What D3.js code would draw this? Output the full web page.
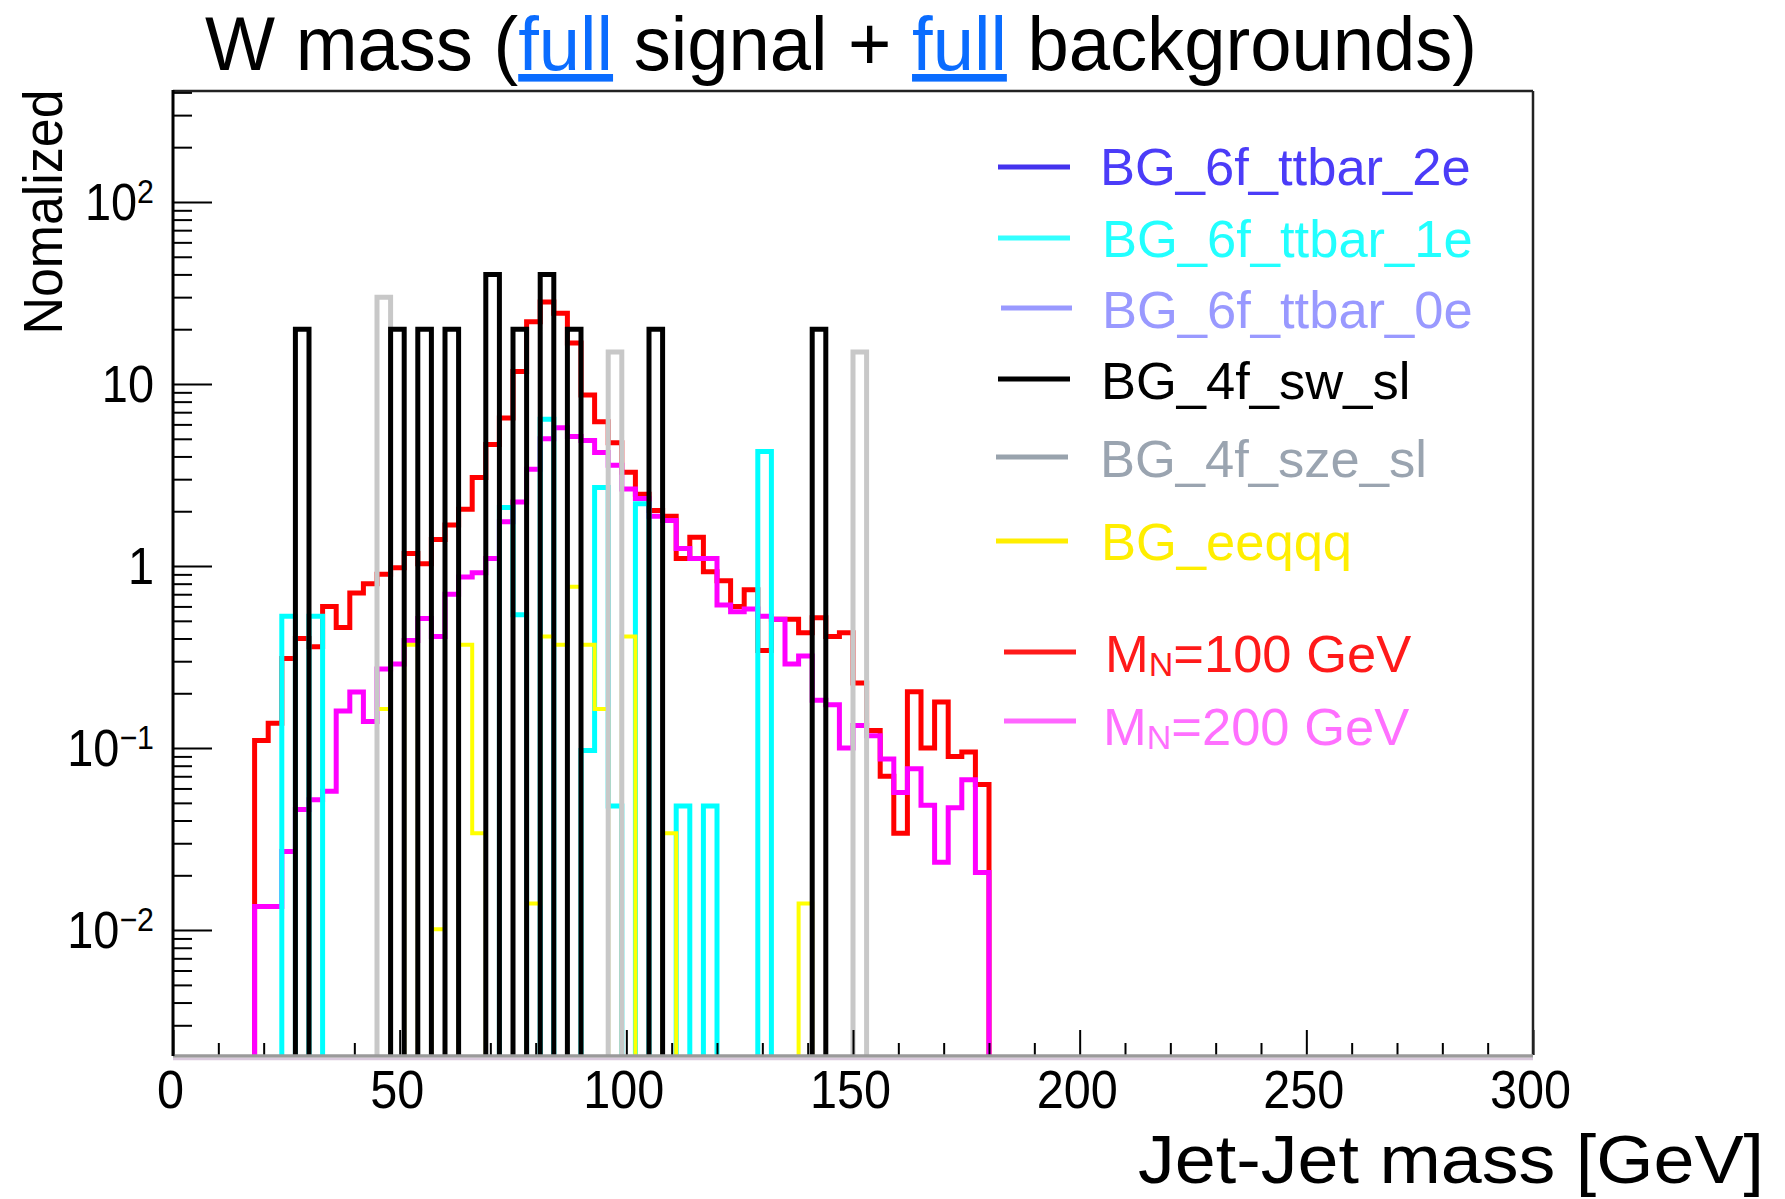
<!DOCTYPE html>
<html><head><meta charset="utf-8">
<script src="https://cdn.jsdelivr.net/npm/d3@7"></script>
<style>
html,body{margin:0;padding:0;background:#fff;}
svg{display:block;}
text{font-family:"Liberation Sans",Arial,Helvetica,sans-serif;}
</style>
</head><body>
<svg id="chart" width="1785" height="1199"></svg>
<script>
// ---------------- DATA ----------------
const binWidth = 3;              // GeV per bin
const xDomain = [0, 300];
const yDomain = [0.00206, 407];
const signalFirstBin = 18;       // first filled bin (GeV) of the signal histograms

// M_N = 100 GeV, bins 18..177 GeV
const mn100 = [0.11, 0.137, 0.31, 0.40, 0.36, 0.60, 0.46, 0.71, 0.80, 0.90,
  0.98, 1.17, 1.03, 1.40, 1.68, 2.05, 3.06, 4.65, 6.5, 11.7,
  22, 28.2, 24.5, 16.8, 8.7, 6.2, 4.75, 3.27, 2.48, 2.02,
  1.88, 1.10, 1.44, 0.93, 0.83, 0.60, 0.74, 0.344, 0.51, 0.51,
  0.43, 0.52, 0.41, 0.43, 0.228, 0.125, 0.07, 0.034, 0.204, 0.10,
  0.179, 0.09, 0.095, 0.063];
// M_N = 200 GeV, bins 18..177 GeV
const mn200 = [0.0135, 0.0135, 0.027, 0.046, 0.052, 0.058, 0.16, 0.203, 0.14, 0.272,
  0.29, 0.39, 0.515, 0.41, 0.70, 0.87, 0.92, 1.1, 1.75, 2.25,
  3.4, 5.0, 5.75, 5.15, 4.9, 4.2, 3.58, 2.65, 2.35, 1.88,
  1.78, 1.25, 1.1, 1.1, 0.61, 0.56, 0.58, 0.53, 0.51, 0.29,
  0.32, 0.183, 0.173, 0.10, 0.133, 0.117, 0.087, 0.057, 0.077, 0.0485,
  0.0236, 0.047, 0.067, 0.0207];
// backgrounds: [bin low edge (GeV), value]
const ttbar2e = [];
const ttbar1e = [[24,0.53],[30,0.53],[72,2.1],[75,0.54],[81,6.4],[90,0.097],[93,2.7],[96,0.048],[102,2.2],[111,0.048],[117,0.048],[129,4.26]];
const ttbar0e = [];
const sw_sl  = [[27,20],[48,20],[54,20],[60,20],[69,40],[75,20],[81,40],[87,20],[105,20],[141,20]];
const sze_sl = [[45,30],[96,15],[150,15]];
const eeqqq  = [[45,0.164],[51,0.37],[57,0.0101],[63,0.37],[66,0.034],[78,0.014],[81,0.41],[84,0.37],[87,0.77],[90,0.37],[93,0.164],[99,0.41],[108,0.034],[138,0.014]];

const xTickValues = [0, 50, 100, 150, 200, 250, 300];
const yTickLabels = [
  {v: 100, base: "10", sup: "2"},
  {v: 10, base: "10", sup: ""},
  {v: 1, base: "1", sup: ""},
  {v: 0.1, base: "10", sup: "\u22121"},
  {v: 0.01, base: "10", sup: "\u22122"}
];
const legendNames = ["BG_6f_ttbar_2e","BG_6f_ttbar_1e","BG_6f_ttbar_0e","BG_4f_sw_sl","BG_4f_sze_sl","BG_eeqqq","M|N|=100 GeV","M|N|=200 GeV"];
const titleParts = [["W mass (",0],["full",1],[" signal + ",0],["full",1],[" backgrounds)",0]];
const xTitle = "Jet-Jet mass [GeV]";
const yTitle = "Nomalized";

// ---------------- STYLE / LAYOUT ----------------
const L = 173, R = 1533, T = 91, B = 1055;
const yZero = 1064;
const svg = d3.select("#chart");
const x = d3.scaleLinear().domain(xDomain).range([L, R]);
const y = d3.scaleLog().domain(yDomain).range([B, T]);

svg.append("rect").attr("width",1785).attr("height",1199).attr("fill","#fff");

svg.append("defs").append("clipPath").attr("id","clip")
  .append("rect").attr("x",L).attr("y",T).attr("width",R-L).attr("height",B+2-T);

function toMap(pairs){ return new Map(pairs.map(p=>[p[0],p[1]])); }
function signalMap(vals){ return new Map(vals.map((v,i)=>[signalFirstBin+i*binWidth, v])); }

const nb = Math.round((xDomain[1]-xDomain[0])/binWidth);
const line = d3.line().x(d=>x(d[0])).y(d=> d[1]>0 ? y(d[1]) : yZero).curve(d3.curveLinear);
function histPoints(map){
  const pts = [[xDomain[0],0]];
  for(let i=0;i<nb;i++){
    const lo = xDomain[0]+i*binWidth;
    const v = map.get(lo)||0;
    pts.push([lo,v]); pts.push([lo+binWidth,v]);
  }
  pts.push([xDomain[1],0]);
  return pts;
}

const series = [
  {map: signalMap(mn100), color:"#ff0000", w:5},
  {map: signalMap(mn200), color:"#ff00ff", w:5},
  {map: toMap(ttbar2e), color:"#4433ee", w:5},
  {map: toMap(ttbar0e), color:"#9999ff", w:5},
  {map: toMap(ttbar1e), color:"#00ffff", w:5},
  {map: toMap(eeqqq), color:"#ffff00", w:4},
  {map: toMap(sze_sl), color:"#c8c8c8", w:5},
  {map: toMap(sw_sl), color:"#000000", w:5}
];

const gH = svg.append("g").attr("clip-path","url(#clip)");
series.forEach(s=>{
  gH.append("path").attr("d", line(histPoints(s.map)))
    .attr("fill","none").attr("stroke",s.color).attr("stroke-width",s.w)
    .attr("stroke-linejoin","miter").attr("stroke-linecap","butt");
});

// ---------------- AXES ----------------
const xMinor = d3.range(xDomain[0], xDomain[1]+1, 10).filter(v=>xTickValues.indexOf(v)<0);
const gxm = svg.append("g").attr("transform",`translate(0,${B})`)
  .call(d3.axisBottom(x).tickValues(xMinor).tickSize(-12).tickFormat(""));
gxm.select(".domain").remove();
gxm.selectAll("line").attr("stroke","#000").attr("stroke-width",2);

const gx = svg.append("g").attr("transform",`translate(0,${B})`)
  .call(d3.axisBottom(x).tickValues(xTickValues).tickSize(-25).tickPadding(15).tickFormat(d3.format("d")));
gx.select(".domain").remove();
gx.selectAll("line").attr("stroke","#000").attr("stroke-width",2);
gx.selectAll("text").attr("font-size",54).attr("fill","#000")
  .attr("font-family","'Liberation Sans',Arial,sans-serif")
  .attr("transform","translate(-3,0) scale(0.9,1)");

const yMinor = [];
[-3,-2,-1,0,1,2].forEach(k=>{ for(let m=2;m<=9;m++){ const v=m*Math.pow(10,k); if(v>yDomain[0]&&v<yDomain[1]) yMinor.push(v);} });
const gym = svg.append("g").attr("transform",`translate(${L},0)`)
  .call(d3.axisRight(y).tickValues(yMinor).tickSize(19).tickFormat(""));
gym.select(".domain").remove();
gym.selectAll("line").attr("stroke","#000").attr("stroke-width",2);
const gy = svg.append("g").attr("transform",`translate(${L},0)`)
  .call(d3.axisRight(y).tickValues(yTickLabels.map(d=>d.v)).tickSize(39).tickFormat(""));
gy.select(".domain").remove();
gy.selectAll("line").attr("stroke","#000").attr("stroke-width",2);

yTickLabels.forEach(t=>{
  const tx = svg.append("text")
    .attr("transform",`translate(154,${y(t.v)+18}) scale(0.92,1)`)
    .attr("text-anchor","end").attr("font-size",51).attr("fill","#000");
  tx.append("tspan").text(t.base);
  if(t.sup) tx.append("tspan").attr("font-size",33).attr("dy",-17).text(t.sup);
});

// frame
svg.append("line").attr("x1",L).attr("x2",R).attr("y1",T).attr("y2",T).attr("stroke","#222").attr("stroke-width",2.5);
svg.append("line").attr("x1",R).attr("x2",R).attr("y1",T).attr("y2",B).attr("stroke","#222").attr("stroke-width",2.5);
svg.append("line").attr("x1",L).attr("x2",R).attr("y1",B+1).attr("y2",B+1).attr("stroke","#9a9a9a").attr("stroke-width",3.5);
svg.append("line").attr("x1",L).attr("x2",R).attr("y1",B+4).attr("y2",B+4).attr("stroke","#d9c9dc").attr("stroke-width",2.5);
svg.append("line").attr("x1",L).attr("x2",L).attr("y1",T-1).attr("y2",B+1).attr("stroke","#000").attr("stroke-width",3);

// ---------------- TITLES ----------------
const title = svg.append("text").attr("x",205).attr("y",70).attr("font-size",76)
  .attr("textLength",1272).attr("lengthAdjust","spacingAndGlyphs").attr("fill","#000");
titleParts.forEach(p=>{
  const ts = title.append("tspan").text(p[0]);
  if(p[1]) ts.attr("fill","#0a6cff").attr("text-decoration","underline");
});

svg.append("text").attr("x",1138).attr("y",1183).attr("font-size",68)
  .attr("textLength",626).attr("lengthAdjust","spacingAndGlyphs").attr("fill","#000").text(xTitle);

svg.append("text").attr("transform","translate(62,212) rotate(-90)").attr("text-anchor","middle")
  .attr("font-size",55).attr("textLength",245).attr("lengthAdjust","spacingAndGlyphs")
  .attr("fill","#000").text(yTitle);

// ---------------- LEGEND ----------------
const legendLineColors = ["#4433ee","#33ffff","#9999ff","#000000","#99a3ad","#ffee00","#ff1a1a","#ff66ff"];
const legendTextColors = ["#4b3cf8","#22ffff","#9999ff","#000000","#9aa4b0","#ffee00","#ff1a1a","#ff70ff"];
const legendLineY = [167,238,308,379,457,541,652,721];
const legendTextY = [185,257,328,399,477,560,672,745];
const legendLineX = [[998,1070],[998,1070],[1001,1072],[998,1070],[996,1068],[996,1068],[1004,1076],[1004,1076]];
const legendTextX = [1100,1102,1102,1101,1100,1101,1105,1103];

legendNames.forEach((name,i)=>{
  svg.append("line").attr("x1",legendLineX[i][0]).attr("x2",legendLineX[i][1])
    .attr("y1",legendLineY[i]).attr("y2",legendLineY[i])
    .attr("stroke",legendLineColors[i]).attr("stroke-width",5);
  const t = svg.append("text").attr("x",legendTextX[i]).attr("y",legendTextY[i])
    .attr("font-size",52.5).attr("fill",legendTextColors[i]);
  const parts = name.split("|");
  if(parts.length===3){
    t.append("tspan").text(parts[0]);
    t.append("tspan").attr("font-size",34).attr("dy",4).text(parts[1]);
    t.append("tspan").attr("dy",-4).text(parts[2]);
  } else {
    t.text(name);
  }
});
</script>
</body></html>
